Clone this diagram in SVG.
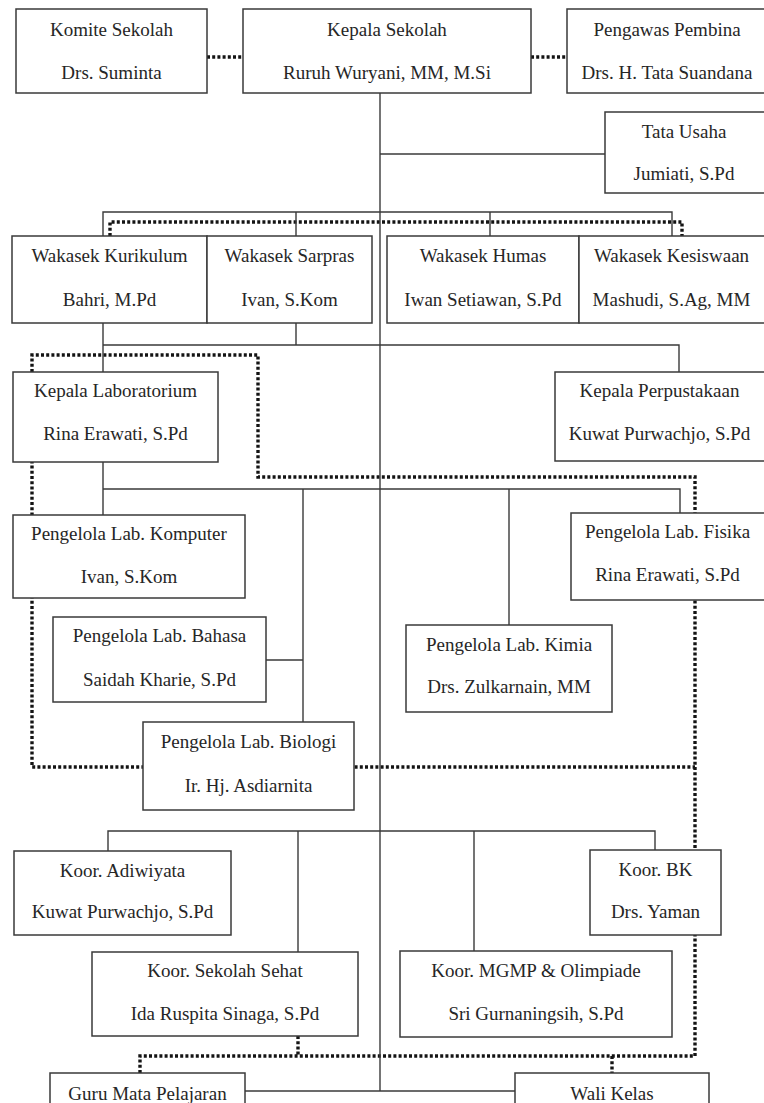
<svg xmlns="http://www.w3.org/2000/svg" width="764" height="1103" viewBox="0 0 764 1103">
<style>
.bg{fill:#ffffff}
.box{fill:#ffffff;stroke:#3a3a3a;stroke-width:1.5}
.ln{fill:none;stroke:#3a3a3a;stroke-width:1.4}
.dot{fill:none;stroke:#141414;stroke-width:3.4;stroke-dasharray:3 2.2}
text{font-family:"Liberation Serif","Times New Roman",serif;font-size:19px;fill:#262626;text-anchor:middle}
</style>
<rect class="bg" x="0" y="0" width="764" height="1103"/>
<g id="connectors">
  <path class="dot" d="M207,57 H243 M531,57 H567"/>
  <path class="dot" d="M110,236 V222 H682 V236"/>
  <path class="dot" d="M32,372 V355 H258 V477 H695 V1056"/>
  <path class="dot" d="M32,372 V767 H695"/>
  <path class="dot" d="M140,1073 V1056 H695 M298,1036 V1056 M612,1056 V1073"/>
  <path class="ln" d="M380,93 V1091"/>
  <path class="ln" d="M380,154 H605"/>
  <path class="ln" d="M103,236 V212 H672 V236 M296,212 V236 M490,212 V236"/>
  <path class="ln" d="M103,323 V372 M296,323 V345 M103,345 H679 V372"/>
  <path class="ln" d="M103,462 V515 M103,489 H680 V513 M509,489 V625 M303,489 V722 M266,660 H303"/>
  <path class="ln" d="M108,851 V831 H655 V850 M298,831 V952 M474,831 V951"/>
  <path class="ln" d="M245,1091 H515"/>
</g>
<g id="komite"><rect class="box" x="16" y="9" width="191" height="84"/><text x="111.5" y="36">Komite Sekolah</text><text x="111.5" y="79">Drs. Suminta</text></g>
<g id="kepala-sekolah"><rect class="box" x="243" y="9" width="288" height="84"/><text x="387" y="36">Kepala Sekolah</text><text x="387" y="79">Ruruh Wuryani, MM, M.Si</text></g>
<g id="pengawas"><rect class="box" x="567" y="9" width="200" height="84"/><text x="667" y="36">Pengawas Pembina</text><text x="667" y="79">Drs. H. Tata Suandana</text></g>
<g id="tata-usaha"><rect class="box" x="605" y="112" width="162" height="81"/><text x="684" y="138">Tata Usaha</text><text x="684" y="180">Jumiati, S.Pd</text></g>
<g id="wakasek-kurikulum"><rect class="box" x="12" y="236" width="195" height="87"/><text x="109.5" y="262">Wakasek Kurikulum</text><text x="109.5" y="306">Bahri, M.Pd</text></g>
<g id="wakasek-sarpras"><rect class="box" x="207" y="236" width="165" height="87"/><text x="289.5" y="262">Wakasek Sarpras</text><text x="289.5" y="306">Ivan, S.Kom</text></g>
<g id="wakasek-humas"><rect class="box" x="387" y="236" width="192" height="87"/><text x="483" y="262">Wakasek Humas</text><text x="483" y="306">Iwan Setiawan, S.Pd</text></g>
<g id="wakasek-kesiswaan"><rect class="box" x="579" y="236" width="188" height="87"/><text x="671.5" y="262">Wakasek Kesiswaan</text><text x="671.5" y="306">Mashudi, S.Ag, MM</text></g>
<g id="kepala-lab"><rect class="box" x="13" y="372" width="205" height="90"/><text x="115.5" y="397">Kepala Laboratorium</text><text x="115.5" y="440">Rina Erawati, S.Pd</text></g>
<g id="kepala-perpustakaan"><rect class="box" x="555" y="372" width="212" height="89"/><text x="659.5" y="397">Kepala Perpustakaan</text><text x="659.5" y="440">Kuwat Purwachjo, S.Pd</text></g>
<g id="lab-komputer"><rect class="box" x="13" y="515" width="232" height="83"/><text x="129" y="540">Pengelola Lab. Komputer</text><text x="129" y="583">Ivan, S.Kom</text></g>
<g id="lab-fisika"><rect class="box" x="571" y="513" width="196" height="87"/><text x="667.5" y="538">Pengelola Lab. Fisika</text><text x="667.5" y="581">Rina Erawati, S.Pd</text></g>
<g id="lab-bahasa"><rect class="box" x="53" y="617" width="213" height="85"/><text x="159.5" y="642">Pengelola Lab. Bahasa</text><text x="159.5" y="686">Saidah Kharie, S.Pd</text></g>
<g id="lab-kimia"><rect class="box" x="406" y="625" width="206" height="87"/><text x="509" y="651">Pengelola Lab. Kimia</text><text x="509" y="693">Drs. Zulkarnain, MM</text></g>
<g id="lab-biologi"><rect class="box" x="143" y="722" width="211" height="88"/><text x="248.5" y="748">Pengelola Lab. Biologi</text><text x="248.5" y="792">Ir. Hj. Asdiarnita</text></g>
<g id="koor-adiwiyata"><rect class="box" x="14" y="851" width="217" height="84"/><text x="122.5" y="877">Koor. Adiwiyata</text><text x="122.5" y="918">Kuwat Purwachjo, S.Pd</text></g>
<g id="koor-bk"><rect class="box" x="590" y="850" width="131" height="85"/><text x="655.5" y="876">Koor. BK</text><text x="655.5" y="918">Drs. Yaman</text></g>
<g id="koor-sekolah-sehat"><rect class="box" x="92" y="952" width="266" height="84"/><text x="225" y="977">Koor. Sekolah Sehat</text><text x="225" y="1020">Ida Ruspita Sinaga, S.Pd</text></g>
<g id="koor-mgmp"><rect class="box" x="400" y="951" width="272" height="86"/><text x="536" y="977">Koor. MGMP &amp; Olimpiade</text><text x="536" y="1020">Sri Gurnaningsih, S.Pd</text></g>
<g id="guru"><rect class="box" x="50" y="1073" width="195" height="40"/><text x="147.5" y="1100">Guru Mata Pelajaran</text></g>
<g id="wali-kelas"><rect class="box" x="515" y="1073" width="194" height="40"/><text x="612" y="1100">Wali Kelas</text></g>
</svg>
